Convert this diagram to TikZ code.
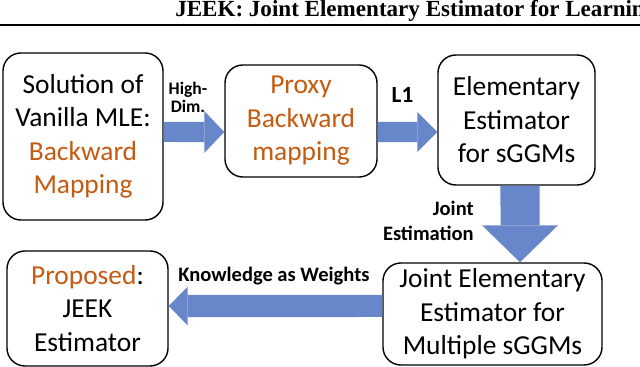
\documentclass[tikz,border=0pt]{standalone}
\usepackage{fontspec}
\setmainfont{Carlito}
\newfontfamily\headfont{Liberation Serif}
\usepackage{xcolor}
\usepackage{tikz}
\usetikzlibrary{arrows.meta,positioning,calc}
\definecolor{mapor}{HTML}{C55A11}
\definecolor{blkblue}{HTML}{6887CA}

\begin{document}
\begin{tikzpicture}[x=0.025cm, y=-0.025cm,
    box/.style={draw, line width=1pt, rounded corners=0.45cm, fill=white,
                align=center, inner sep=0pt,
                font=\fontsize{19.5}{23.8}\selectfont},
    lbl/.style={font=\bfseries\fontsize{14.6}{17.8}\selectfont, inner sep=0pt},
    blk/.style={draw=blkblue, line width=0.5cm,
                -{Triangle[length=0.5cm, width=1.05cm, line width=0pt]}},
  ]
    \useasboundingbox (0,0) rectangle (640,367);

    % running head
    \node[anchor=base west, inner sep=0pt,
          font=\headfont\bfseries\fontsize{16.4}{19}\selectfont] (head) at (175,17)
      {JEEK: Joint Elementary Estimator for Learning};
    \draw[line width=1.4pt] (0,25) -- (640,25);

    \node[box, minimum width=4cm, minimum height=4.175cm] (mle) at (83,136.5)
      {Solution of \\ Vanilla MLE: \\ \textcolor{mapor}{Backward} \\ \textcolor{mapor}{Mapping}};
    \node[box, minimum width=3.8cm, minimum height=2.8cm, text=mapor] (proxy) at (301,121)
      {Proxy \\ Backward \\ mapping};
    \node[box, minimum width=3.925cm, minimum height=3.25cm] (elem) at (516.5,120)
      {Elementary \\ Estimator \\ for sGGMs};
    \node[box, minimum width=4.025cm, minimum height=2.875cm] (jeek) at (87.5,308.5)
      {\textcolor{mapor}{Proposed}: \\ JEEK \\ Estimator};
    \node[box, minimum width=5.475cm, minimum height=2.55cm] (joint) at (492.5,314)
      {Joint Elementary \\ Estimator for \\ Multiple sGGMs};

    % block arrows
    \draw[blk] ([yshift=0.1125cm]mle.east) -- ([yshift=-0.275cm]proxy.west);
    \draw[blk, -{Triangle[length=0.5cm, width=1cm, line width=0pt]}]
      ([yshift=-0.275cm]proxy.east) -- ([yshift=-0.3cm]elem.west);
    \draw[blk, line width=0.975cm, -{Triangle[length=0.925cm, width=1.9cm, line width=0pt]}]
      ([xshift=0.0875cm]elem.south) -- ([xshift=0.6875cm]joint.north);
    \draw[blk, line width=0.55cm, -{Triangle[length=0.475cm, width=0.975cm, line width=0pt]}]
      ([yshift=0.2cm]joint.west) -- ([yshift=0.0625cm]jeek.east);

    % arrow labels
    \node[lbl, align=center, font=\bfseries\fontsize{12.5}{12.8}\selectfont] (hd) at (188,97.5)
      {High- \\ Dim.};
    \node[lbl, anchor=base, font=\bfseries\fontsize{16.5}{19}\selectfont] (l1) at (402.5,103) {L1};
    \node[lbl, align=right, anchor=east] (je) at (474,220.75) {Joint \\ Estimation};
    \node[lbl, anchor=base west] (kw) at (178,282) {Knowledge as Weights};
  \end{tikzpicture}
\end{document}
